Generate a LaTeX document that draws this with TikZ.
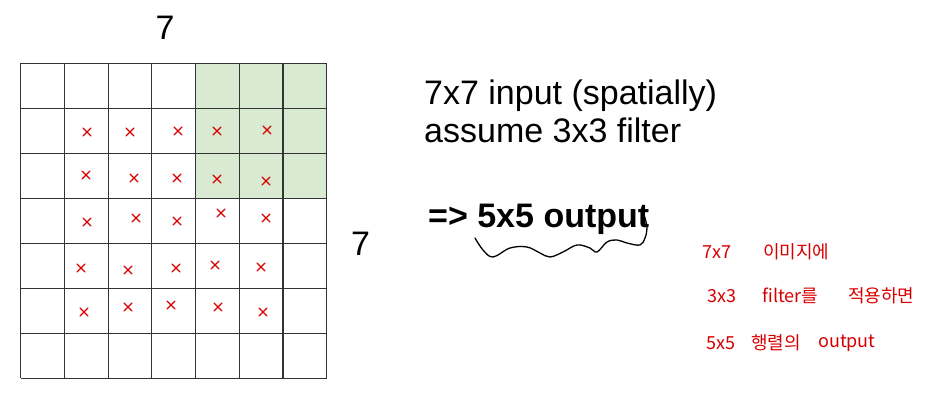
\documentclass[tikz,border=0pt]{standalone}
\usepackage{fontspec}
\setmainfont{Liberation Sans}
\newfontfamily\hanfont{Noto Sans CJK KR}
\definecolor{filtergreen}{RGB}{217,234,211}
\definecolor{penred}{RGB}{215,0,0}
\tikzset{
	gridline/.style={draw=black!80, line width=1.1pt},
	slidetext/.style={font=\fontsize{34}{40}\selectfont, inner sep=0pt, anchor=base west},
	memo/.style={font=\hanfont\fontsize{18}{20}\selectfont, text=penred, inner sep=0pt, anchor=west},
	penmark/.style={draw=penred, line width=1.3pt, line cap=round},
}
\begin{document}
\begin{tikzpicture}[x=1pt,y=-1pt]
	\useasboundingbox (0,0) rectangle (925,412);
	\fill[filtergreen] (20.7+4*43.71,63.3) rectangle (20.7+7*43.71,63.3+3*45);
	\foreach \i in {0,...,7} {
		\draw[gridline] (20.7+43.71*\i,63.3) -- (20.7+43.71*\i,378.3);
		\draw[gridline] (20.7,63.3+45*\i) -- (326.7,63.3+45*\i);
	}
	\foreach \x/\y in {87/132,130/132,178/131,217/131,267/130,
		86/175,134/178,177/178,217/179,266/181,
		87/222,136/218,177/221,221/213,266/218,
		81/268,128/270,176/268,215/265,261/267,
		84/312,128/307,171/305,218/307,263/312}
		\draw[penmark] (\x-4,\y-4) -- (\x+4,\y+4) (\x-4,\y+4) -- (\x+4,\y-4);
	\node[slidetext, anchor=base] (top7) at (165,40) {7};
	\node[slidetext] (side7) at (351,255) {7};
	\node[slidetext] (line1) at (424,104) {7x7 input (spatially)};
	\node[slidetext] (line2) at (424,142) {assume 3x3 filter};
	\node[slidetext] (line3) at (428,227) {\textbf{=> 5x5 output}};
	\draw[line width=1.3pt, line join=round, line cap=round] plot[smooth, tension=0.6] coordinates {(475,238) (483,250) (493,257) (510,248) (527,247) (540,253) (550,257) (563,252) (577,245) (590,248) (597,252) (607,242) (617,240) (627,243) (640,245) (645,238) (647,228) (645,218) (643,213)};
	\node[memo] (m1a) at (702,252) {7x7};
	\node[memo] (m1b) at (763,252) {이미지에};
	\node[memo] (m2a) at (707,296) {3x3};
	\node[memo] (m2b) at (762,296) {filter를};
	\node[memo] (m2c) at (848,296) {적용하면};
	\node[memo] (m3a) at (706,343) {5x5};
	\node[memo] (m3b) at (751,343) {행렬의};
	\node[memo] (m3c) at (818,343) {output};
\end{tikzpicture}
\end{document}
